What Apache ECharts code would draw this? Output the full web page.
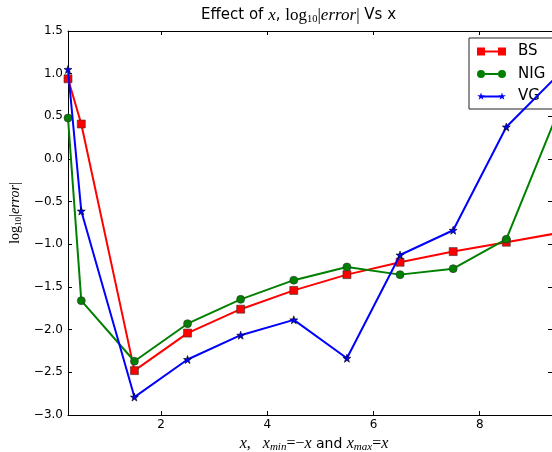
<!DOCTYPE html>
<html>
<head>
<meta charset="utf-8">
<script src="https://cdn.jsdelivr.net/npm/echarts@6/dist/echarts.min.js"></script>
<style>html,body{margin:0;padding:0;background:#fff;}#c{width:552px;height:452px;}</style>
</head>
<body>
<div id="c"></div>
<script>
// ---- data ----
var xValues = [0.25, 0.5, 1.5, 2.5, 3.5, 4.5, 5.5, 6.5, 7.5, 8.5, 9.5];
var bsValues = [0.94, 0.41, -2.48, -2.04, -1.76, -1.54, -1.355, -1.21, -1.085, -0.975, -0.865];
var nigValues = [0.48, -1.66, -2.37, -1.93, -1.645, -1.42, -1.265, -1.355, -1.285, -0.94, 0.59];
var vgValues = [1.05, -0.61, -2.79, -2.35, -2.065, -1.885, -2.335, -1.125, -0.835, 0.375, 1.0];
var seriesNames = ['BS', 'NIG', 'VG'];
var xTickValues = [2, 4, 6, 8];
var xMin = 0.25, xMax = 9.36;
var yMin = -3.0, yMax = 1.5, yStep = 0.5;

function pairs(xs, ys) { return xs.map(function (x, i) { return [x, ys[i]]; }); }

var starPath = 'path://M4 0L4.94 2.71L7.8 2.76L5.52 4.49L6.35 7.24L4 5.6L1.65 7.24L2.48 4.49L0.2 2.76L3.06 2.71Z';
function shift(p, dx) {
  return p.replace(/([ML])([\d.]+) ([\d.]+)/g, function (m, c, x, y) { return c + (parseFloat(x) + dx).toFixed(2) + ' ' + y; });
}
var starBody = starPath.replace('path://', '');
var legendIcons = {
  BS: 'path://M0 0L8 0L8 8L0 8Z M8 3L21 3L21 5L8 5Z M21 0L29 0L29 8L21 8Z M36 8',
  NIG: 'path://M0 4A4 4 0 1 0 8 4A4 4 0 1 0 0 4Z M8 3L21 3L21 5L8 5Z M21 4A4 4 0 1 0 29 4A4 4 0 1 0 21 4Z M36 8 M0 0',
  VG: 'path://' + starBody + ' M4 3L25 3L25 5L4 5Z ' + shift(starBody, 21) + ' M36 8 M0 0'
};

var mathRich = {
  a: { fontFamily: 'DejaVu Sans', fontSize: 14, fontWeight: 'normal', color: '#000' },
  m: { fontFamily: 'Liberation Serif', fontStyle: 'italic', fontWeight: 'normal', fontSize: 16, color: '#000' },
  r: { fontFamily: 'Liberation Serif', fontSize: 16, fontWeight: 'normal', color: '#000' },
  s: { fontFamily: 'Liberation Serif', fontStyle: 'italic', fontWeight: 'normal', fontSize: 11, color: '#000', padding: [7, 0, 0, 0] },
  sn: { fontFamily: 'Liberation Serif', fontSize: 11, fontWeight: 'normal', color: '#000', padding: [7, 0, 0, 0] }
};

var chart = echarts.init(document.getElementById('c'), null, { renderer: 'canvas' });
var option = {
  animation: false,
  backgroundColor: '#fff',
  title: {
    text: '{a|Effect of }{m|x}{a|, }{r|log}{sn|10}{r||}{m|error}{r||}{a| Vs x}',
    left: 201, top: 6, padding: 0,
    textStyle: {
      fontWeight: 'normal',
      rich: {
        a: { fontFamily: 'DejaVu Sans', fontSize: 15, fontWeight: 'normal', color: '#000' },
        m: { fontFamily: 'Liberation Serif', fontStyle: 'italic', fontWeight: 'normal', fontSize: 17, color: '#000' },
        r: { fontFamily: 'Liberation Serif', fontSize: 17, fontWeight: 'normal', color: '#000' },
        sn: { fontFamily: 'Liberation Serif', fontSize: 10.5, fontWeight: 'normal', color: '#000', padding: [8, 0, 0, 0] }
      }
    }
  },
  grid: { left: 68, right: 0, top: 31, bottom: 37, show: false, containLabel: false, outerBoundsMode: 'none' },
  legend: {
    orient: 'vertical', left: 469, top: 38,
    padding: [6, 8, 5, 8], itemGap: 7.5,
    itemWidth: 36, itemHeight: 8,
    backgroundColor: '#fff', borderColor: '#222', borderWidth: 1, borderRadius: 0,
    textStyle: { fontFamily: 'DejaVu Sans', fontSize: 15, color: '#000' },
    data: seriesNames.map(function (n) { return { name: n, icon: legendIcons[n], itemStyle: { borderWidth: 0 } }; })
  },
  xAxis: [{
    type: 'value', position: 'bottom', min: xMin, max: xMax,
    axisLine: { show: true, onZero: false, lineStyle: { color: '#000', width: 1 } },
    axisTick: { show: true, inside: true, length: 4, customValues: xTickValues, lineStyle: { color: '#000' } },
    axisLabel: { customValues: xTickValues, margin: 4, fontFamily: 'DejaVu Sans', fontSize: 12, color: '#000' },
    splitLine: { show: false },
    name: '{m|x}{r|,   }{m|x}{s|min}{r|=−}{m|x}{a| and }{m|x}{s|max}{r|=}{m|x}',
    nameLocation: 'middle', nameGap: 19,
    nameTextStyle: { rich: mathRich, padding: [0, 0, 0, 8] }
  }, {
    type: 'value', position: 'top', min: xMin, max: xMax,
    axisLine: { show: true, onZero: false, lineStyle: { color: '#000', width: 1 } },
    axisTick: { show: true, inside: true, length: 4, customValues: xTickValues, lineStyle: { color: '#000' } },
    axisLabel: { show: false },
    splitLine: { show: false }
  }],
  yAxis: [{
    type: 'value', position: 'left', min: yMin, max: yMax, interval: yStep,
    axisLine: { show: true, onZero: false, lineStyle: { color: '#000', width: 1 } },
    axisTick: { show: true, inside: true, length: 4, lineStyle: { color: '#000' } },
    axisLabel: {
      margin: 5, fontFamily: 'DejaVu Sans', fontSize: 12, color: '#000',
      formatter: function (v) { return v.toFixed(1).replace('-', '\u2212'); }
    },
    splitLine: { show: false },
    name: '{r|log}{sn|10}{r||}{m|error}{r||}',
    nameLocation: 'middle', nameGap: 44,
    nameTextStyle: { rich: {
      m: { fontFamily: 'Liberation Serif', fontStyle: 'italic', fontSize: 14, color: '#000' },
      r: { fontFamily: 'Liberation Serif', fontSize: 14, color: '#000' },
      sn: { fontFamily: 'Liberation Serif', fontSize: 9, color: '#000', padding: [6, 0, 0, 0] }
    }, padding: [0, 0, 0, 20] }
  }, {
    type: 'value', position: 'right', min: yMin, max: yMax, interval: yStep,
    axisLine: { show: true, onZero: false, lineStyle: { color: '#000', width: 1 } },
    axisTick: { show: true, inside: true, length: 4 },
    axisLabel: { show: false },
    splitLine: { show: false }
  }],
  series: [{
    name: 'BS', type: 'line', data: pairs(xValues, bsValues),
    symbol: 'rect', symbolSize: 8, showAllSymbol: true,
    lineStyle: { color: '#ff0000', width: 2 },
    itemStyle: { color: '#ff0000', borderColor: '#333', borderWidth: 0.6 },
    emphasis: { disabled: true }, z: 3
  }, {
    name: 'NIG', type: 'line', data: pairs(xValues, nigValues),
    symbol: 'circle', symbolSize: 8, showAllSymbol: true,
    lineStyle: { color: '#008000', width: 2 },
    itemStyle: { color: '#008000', borderColor: '#333', borderWidth: 0.6 },
    emphasis: { disabled: true }, z: 4
  }, {
    name: 'VG', type: 'line', data: pairs(xValues, vgValues),
    symbol: starPath, symbolSize: 8, showAllSymbol: true,
    lineStyle: { color: '#0000ff', width: 2 },
    itemStyle: { color: '#0000ff', borderColor: '#000', borderWidth: 0.6 },
    emphasis: { disabled: true }, z: 5
  }]
};
chart.setOption(option);
</script>
</body>
</html>
